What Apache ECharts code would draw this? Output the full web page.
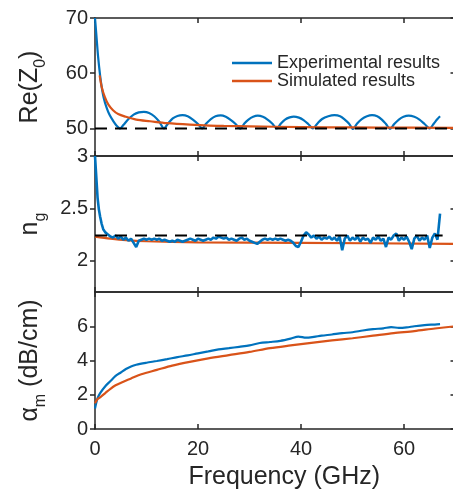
<!DOCTYPE html>
<html><head><meta charset="utf-8">
<script src="https://cdn.jsdelivr.net/npm/echarts@6/dist/echarts.min.js"></script>
<style>html,body{margin:0;padding:0;background:#fff}#c{width:453px;height:492px}</style>
</head><body><div id="c"></div>
<script>
// ---- data ----
const seriesNames = ['Experimental results', 'Simulated results'];
const xTicks = [0, 20, 40, 60];
const z0Ticks = [50, 60, 70];
const ngTicks = [2, 2.5, 3];
const amTicks = [0, 2, 4, 6];
const z0Ref = 50;
const ngRef = 2.24;

const z0Exp = [[0,70],[0.3,66.5],[0.6,63],[1,59.5],[1.3,57.5],[1.7,55.5],[2.2,53.9],[2.8,52.5],[3.5,51.4],[4.2,50.5],[4.9,50.0],
 [5.5,50.6],[6.5,51.7],[7.5,52.5],[8.5,52.9],[9.5,53.0],[10.5,52.8],[11.5,52.2],[12.5,51.2],[13.4,50.0],
 [14.2,50.9],[15.1,51.8],[16,52.25],[17,52.4],[18,52.2],[19,51.6],[20,50.8],[20.8,50.0],
 [21.6,50.9],[22.5,51.7],[23.4,52.2],[24.4,52.35],[25.4,52.1],[26.4,51.5],[27.3,50.8],[28.2,49.95],
 [29,50.9],[29.8,51.6],[30.7,52.1],[31.6,52.3],[32.6,52.1],[33.5,51.6],[34.4,50.9],[35.3,50.0],
 [36.1,50.9],[36.9,51.6],[37.8,52.0],[38.6,52.15],[39.6,51.95],[40.5,51.5],[41.4,50.8],[42.3,50.0],
 [43.2,50.9],[44.1,51.7],[45.3,52.2],[46.5,52.4],[47.6,52.2],[48.5,51.6],[49.3,50.9],[50.1,49.9],
 [50.9,50.9],[51.8,51.7],[52.8,52.2],[53.8,52.4],[54.8,52.2],[55.7,51.6],[56.5,50.8],[57.3,49.9],
 [58.1,50.8],[59,51.6],[59.9,52.1],[60.9,52.3],[62,52.1],[63,51.6],[64,50.8],[65,50.0],
 [65.8,50.9],[66.5,51.7],[67,52.2]];
const z0Sim = [[0.9,59.6],[1.3,57.5],[1.9,55.7],[2.6,54.3],[3.5,53.3],[4.5,52.6],[6,52.1],[8,51.6],[10.7,51.3],[14,50.95],
 [18.4,50.7],[25,50.45],[35,50.3],[45,50.2],[55,50.15],[70,50.1]];

const ngExp = [[0,3.0],[0.25,2.8],[0.5,2.6],[0.75,2.49],[1,2.42],[1.3,2.35],[1.6,2.3],[2,2.27],[2.5,2.25],
 [3,2.23],[3.5,2.22],[4,2.24],[4.5,2.21],[5,2.23],[5.5,2.2],[6,2.22],[6.5,2.19],[7,2.21],[7.5,2.17],[8,2.13],
 [8.5,2.19],[9,2.2],[9.5,2.21],[10,2.2],[10.5,2.21],[11,2.2],[11.5,2.21],[12,2.2],[12.5,2.21],[13,2.19],
 [13.5,2.2],[14,2.19],[14.5,2.18],[15,2.19],[15.5,2.18],[16,2.2],[16.5,2.19],[17,2.18],[17.5,2.19],[18,2.2],
 [18.5,2.21],[19,2.2],[19.5,2.19],[20,2.21],[20.5,2.2],[21,2.19],[21.5,2.2],[22,2.21],[22.5,2.2],[23,2.22],
 [23.5,2.21],[24,2.23],[24.5,2.22],[25,2.21],[25.5,2.22],[26,2.2],[26.5,2.21],[27,2.2],[27.5,2.19],[28,2.21],
 [28.5,2.22],[29,2.2],[29.5,2.21],[30,2.19],[30.5,2.18],[31,2.17],[31.5,2.16],[32,2.18],[32.5,2.2],[33,2.21],
 [33.5,2.2],[34,2.21],[34.5,2.2],[35,2.21],[35.5,2.2],[36,2.21],[36.5,2.2],[37,2.19],[37.5,2.2],[38,2.19],
 [38.5,2.17],[39,2.14],[39.5,2.13],[40,2.18],[40.5,2.24],[41,2.27],[41.5,2.25],[42,2.22],[42.5,2.24],[43,2.21],
 [43.5,2.23],[44,2.2],[44.5,2.22],[45,2.21],[45.5,2.23],[46,2.2],[46.5,2.22],[47,2.19],[47.5,2.23],[48,2.1],
 [48.5,2.21],[49,2.24],[49.5,2.19],[50,2.22],[50.5,2.2],[51,2.23],[51.5,2.18],[52,2.22],[52.5,2.2],[53,2.21],
 [53.5,2.17],[54,2.22],[54.5,2.2],[55,2.23],[55.5,2.19],[56,2.21],[56.5,2.13],[57,2.22],[57.5,2.2],[58,2.24],
 [58.5,2.26],[59,2.19],[59.5,2.22],[60,2.2],[60.5,2.23],[61,2.18],[61.5,2.11],[62,2.21],[62.5,2.24],[63,2.19],
 [63.5,2.22],[64,2.2],[64.5,2.24],[65,2.12],[65.5,2.22],[66,2.26],[66.5,2.2],[66.8,2.21],[67,2.45]];
const ngSim = [[0,2.23],[3,2.21],[6,2.195],[10,2.185],[20,2.175],[40,2.17],[70,2.16]];

const amExp = [[0,1.2],[0.5,1.8],[1,2.1],[2,2.5],[3,2.8],[4,3.1],[5,3.3],[6,3.5],[7,3.65],[8,3.75],[10,3.87],
 [12,3.97],[14,4.08],[16,4.2],[18,4.3],[20,4.42],[22,4.53],[24,4.65],[26,4.72],[28,4.8],[30,4.88],[32,5.02],
 [34,5.08],[36,5.15],[38,5.28],[39.5,5.4],[41,5.33],[42.5,5.38],[44,5.45],[46,5.52],[48,5.6],[50,5.65],
 [52,5.75],[54,5.83],[56,5.88],[57.5,5.95],[59,5.9],[60.5,5.93],[62,6.0],[64,6.07],[66,6.1],[67,6.12]];
const amSim = [[0,1.5],[0.5,1.75],[1,1.85],[2,2.1],[3,2.35],[4,2.55],[5.4,2.75],[7,2.95],[9,3.2],[12,3.45],
 [15,3.7],[18.4,3.92],[22,4.12],[26,4.31],[30,4.5],[34,4.72],[38,4.88],[42,5.03],[46,5.17],[50,5.3],
 [54,5.45],[58,5.6],[62,5.72],[66,5.87],[70,6.0]];

// ---- chart ----
const FONT = 'Liberation Sans, Arial, sans-serif';
const AX = '#262626';
const BLUE = '#0072BD', ORANGE = '#D95319';
const XMIN = 0, XMAX = 70;
const panels = [
  {top: 18, height: 138, min: 45, max: 70, ticks: z0Ticks, name: '{m|Re(Z}{s|0}{m|)}'},
  {top: 156, height: 136, min: 1.7, max: 3, ticks: ngTicks, name: '{m|n}{s|g}'},
  {top: 292, height: 137, min: 0, max: 8, ticks: amTicks, name: '{m|α}{s|m}{m| (dB/cm)}'}
];
const rich = {
  m: {fontSize: 25, verticalAlign: 'top', fontFamily: FONT, color: AX},
  s: {fontSize: 16, verticalAlign: 'top', padding: [15, 0, 0, 0], fontFamily: FONT, color: AX}
};
const grid = panels.map(p => ({left: 95, width: 360.5, top: p.top, height: p.height, outerBoundsMode: 'none', containLabel: false}));
const xAxis = [], yAxis = [];
panels.forEach((p, i) => {
  ['bottom', 'top'].forEach(pos => {
    const showLab = (i === 2 && pos === 'bottom');
    xAxis.push({
      type: 'value', gridIndex: i, position: pos, min: XMIN, max: XMAX,
      axisLine: {show: true, onZero: false, lineStyle: {color: AX, width: 1.5}},
      axisTick: {show: true, inside: true, length: 5, customValues: xTicks, lineStyle: {color: AX, width: 1.5}},
      axisLabel: {show: showLab, customValues: xTicks, margin: 10, fontSize: 20, fontFamily: FONT, color: AX},
      splitLine: {show: false},
      name: showLab ? 'Frequency (GHz)' : '', nameLocation: 'middle', nameGap: 36,
      nameTextStyle: {fontSize: 25, fontFamily: FONT, color: AX, padding: [0, 0, 0, 18]}
    });
  });
  ['left', 'right'].forEach(pos => {
    const left = pos === 'left';
    yAxis.push({
      type: 'value', gridIndex: i, position: pos, min: p.min, max: p.max,
      axisLine: {show: true, onZero: false, lineStyle: {color: AX, width: 1.5}},
      axisTick: {show: true, inside: !left, length: 5, customValues: p.ticks, lineStyle: {color: AX, width: 1.5}},
      axisLabel: {show: left, customValues: p.ticks, margin: 7, fontSize: 20, fontFamily: FONT, color: AX},
      splitLine: {show: false},
      name: left ? p.name : '', nameLocation: 'middle', nameRotate: 90, nameGap: 46,
      nameTextStyle: {rich: rich, fontFamily: FONT}
    });
  });
});
const line = (name, data, i, color, z, smooth, w) => ({
  type: 'line', name: name, data: data, xAxisIndex: 2 * i, yAxisIndex: 2 * i,
  showSymbol: false, symbol: 'none', smooth: smooth || false, z: z,
  lineStyle: {color: color, width: w || 2.2}, itemStyle: {color: color}, animation: false
});
const dash = (val, x0, x1, i) => ({
  type: 'line', data: [[x0, val], [x1, val]], xAxisIndex: 2 * i, yAxisIndex: 2 * i,
  showSymbol: false, symbol: 'none', z: 5, silent: true, animation: false,
  lineStyle: {color: '#000', width: 2, type: [12, 8]}
});
const series = [
  line(seriesNames[0], z0Exp, 0, BLUE, 2, 0.3),
  line(seriesNames[1], z0Sim, 0, ORANGE, 3, 0.3),
  dash(z0Ref, 0, 70, 0),
  line(seriesNames[1], ngSim, 1, ORANGE, 2, 0.3),
  line(seriesNames[0], ngExp, 1, BLUE, 3, false, 2.6),
  dash(ngRef, 0, 67.5, 1),
  line(seriesNames[0], amExp, 2, BLUE, 2, 0.3),
  line(seriesNames[1], amSim, 2, ORANGE, 3, 0.3)
];
const chart = echarts.init(document.getElementById('c'), null, {renderer: 'canvas'});
chart.setOption({
  animation: false,
  backgroundColor: '#fff',
  grid: grid, xAxis: xAxis, yAxis: yAxis, series: series,
  legend: {
    data: seriesNames, left: 232, top: 54, padding: 0, orient: 'vertical', itemWidth: 40, itemHeight: 2.5, itemGap: 0,
    icon: 'rect', textStyle: {fontSize: 18, fontFamily: FONT, color: AX}, selectedMode: false
  }
});
</script></body></html>
